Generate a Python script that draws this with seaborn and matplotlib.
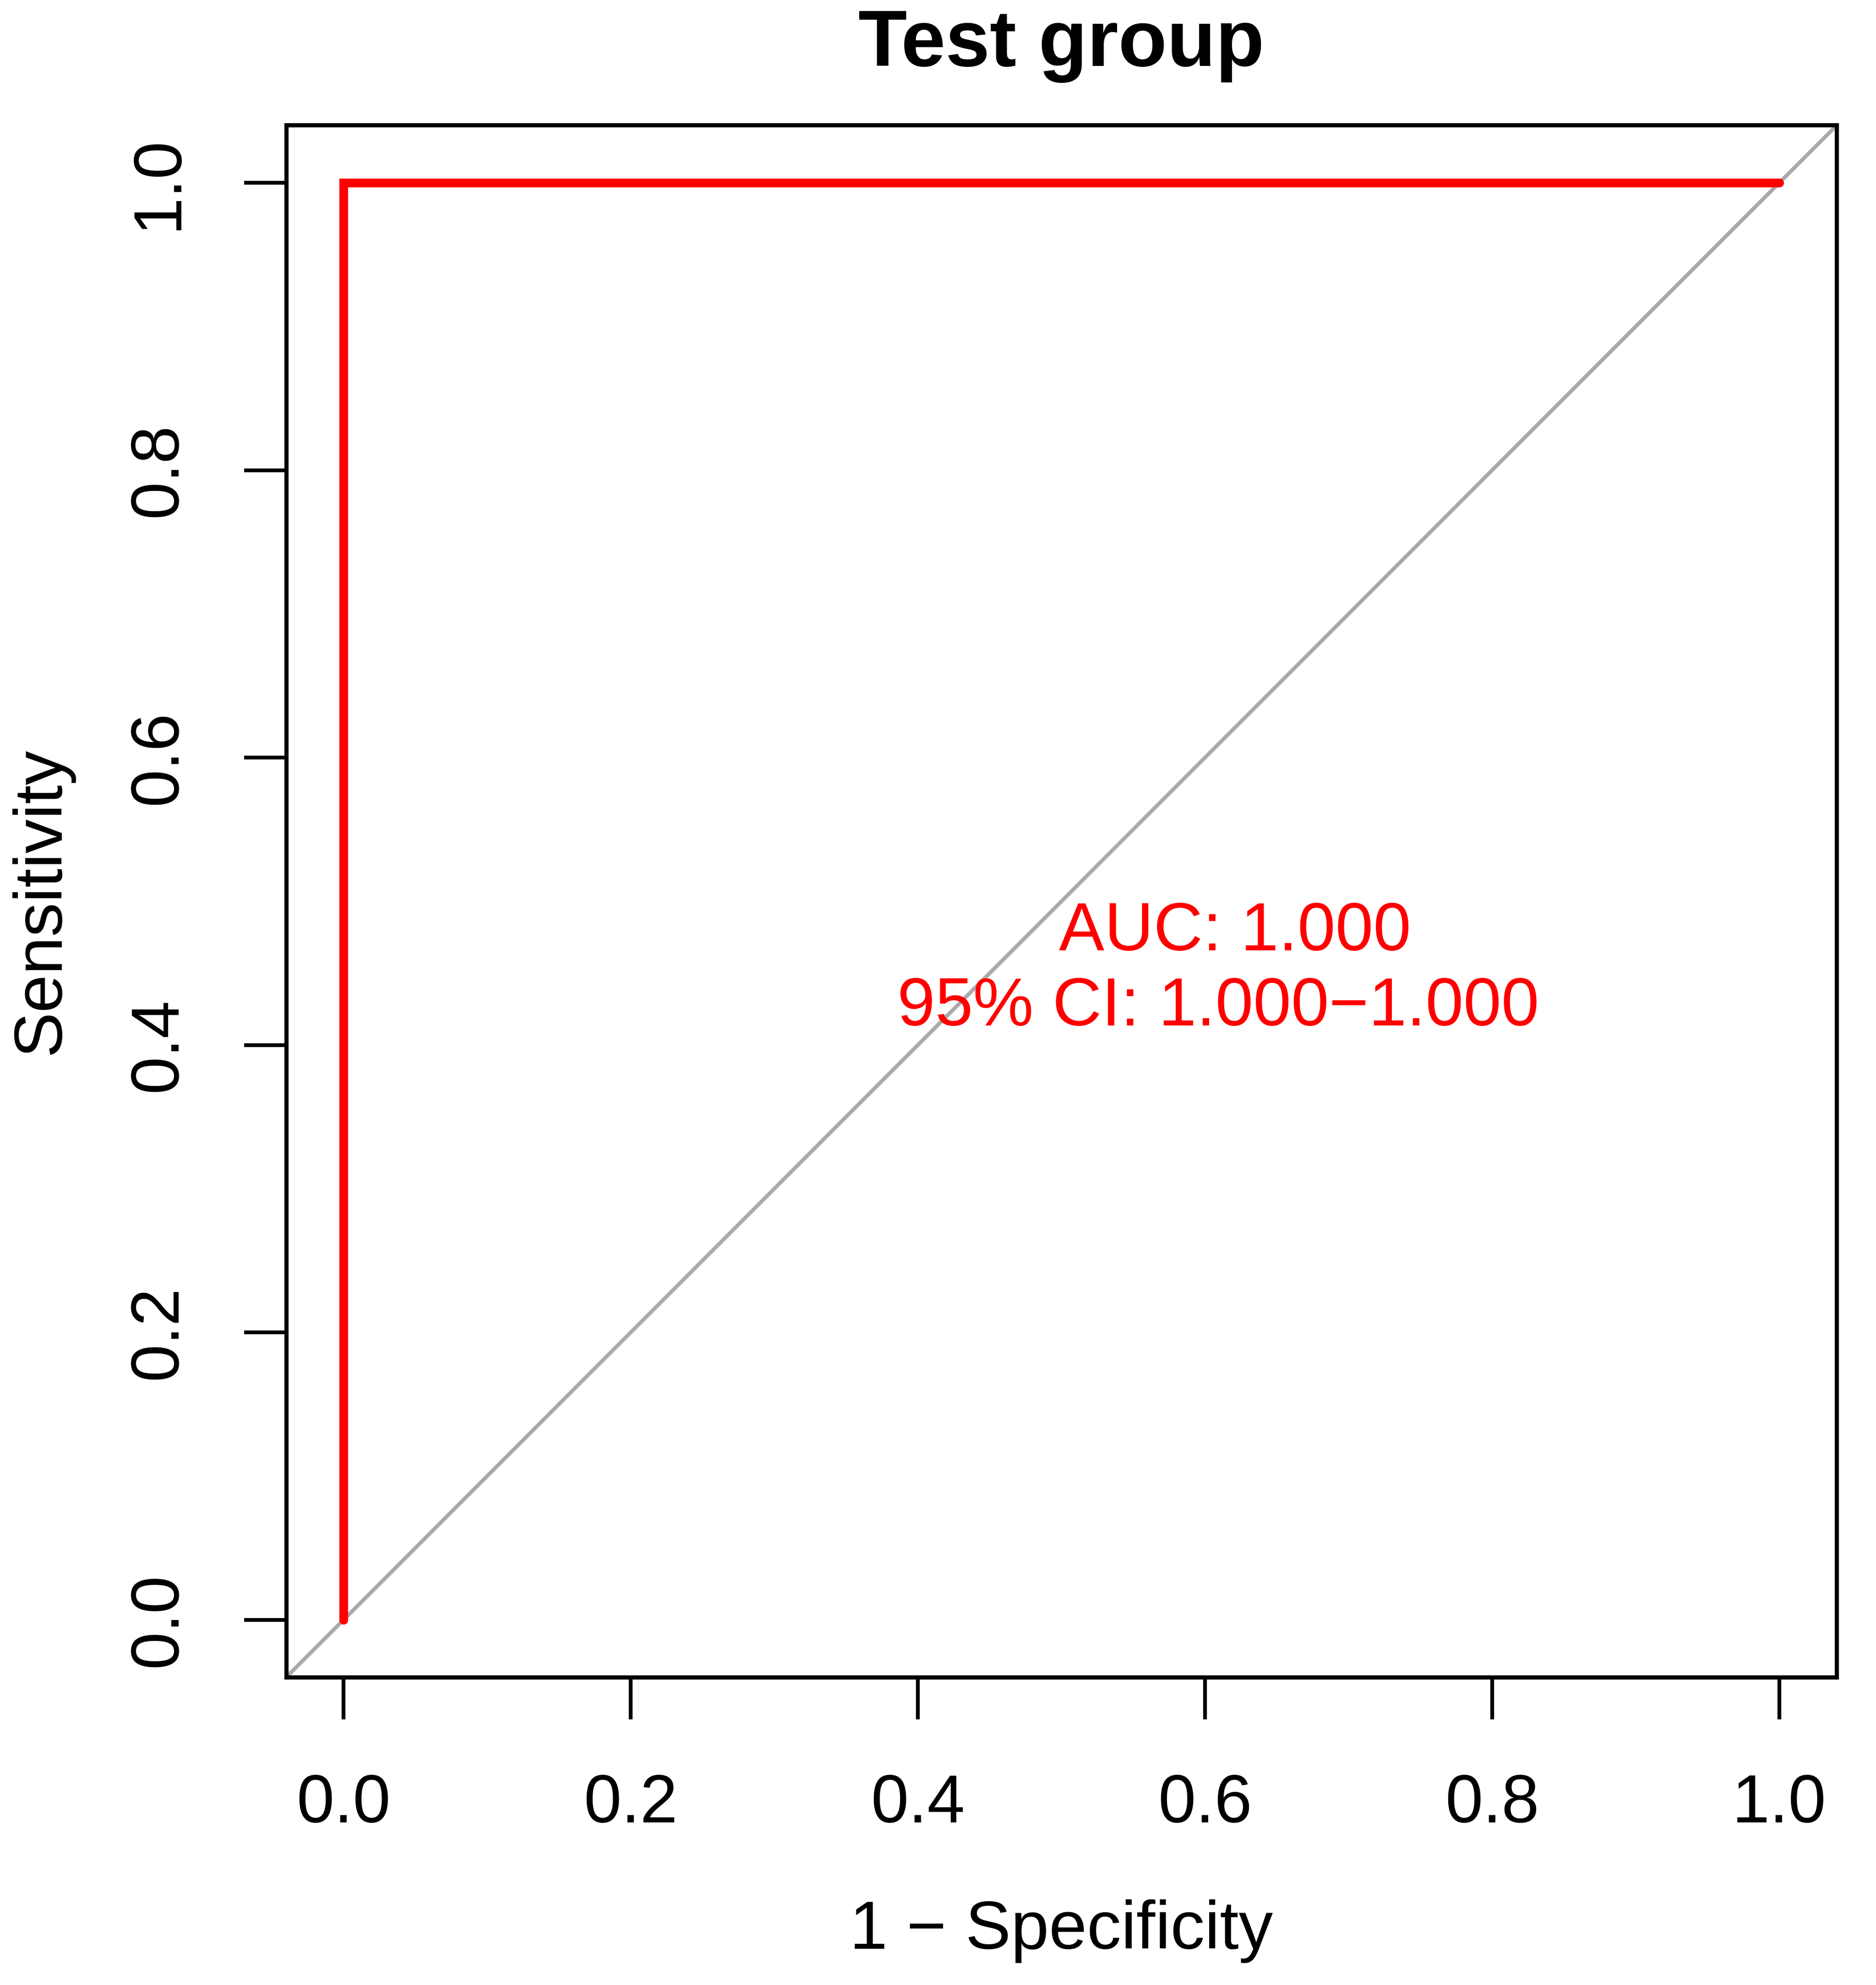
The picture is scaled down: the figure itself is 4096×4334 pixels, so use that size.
import numpy as np
import pandas as pd
import seaborn as sns
import matplotlib.pyplot as plt

# ROC curve points (1 - specificity, sensitivity)
fpr = [0.0, 0.0, 1.0]
tpr = [0.0, 1.0, 1.0]
auc_text = "AUC: 1.000"
ci_text = "95% CI: 1.000\u22121.000"
ticks = [0.0, 0.2, 0.4, 0.6, 0.8, 1.0]
tick_labels = ["0.0", "0.2", "0.4", "0.6", "0.8", "1.0"]

roc = pd.DataFrame({"fpr": fpr, "tpr": tpr})

sns.set_style("ticks")
plt.rcParams['font.family'] = ['Liberation Sans', 'DejaVu Sans']
plt.rcParams['text.color'] = 'black'
plt.rcParams['axes.labelcolor'] = 'black'

fig = plt.figure(figsize=(4096 / 300, 4334 / 300), dpi=300)
ax = fig.add_axes([0.1525, 0.155, 0.8266, 0.7819])

# chance diagonal
ax.axline((0, 0), slope=1, color="#AAAAAA", lw=2.0, zorder=1)

sns.lineplot(data=roc, x="fpr", y="tpr", sort=False, estimator=None,
             color="#FF0000", lw=4.6, ax=ax, zorder=3,
             solid_capstyle="round", solid_joinstyle="miter")

ax.text(0.621, 0.478, auc_text, color="#FF0000", fontsize=35.7,
        ha="center", va="center")
ax.text(0.609, 0.426, ci_text, color="#FF0000", fontsize=35.7,
        ha="center", va="center")

ax.set_xlim(-0.04, 1.04)
ax.set_ylim(-0.04, 1.04)
ax.set_xticks(ticks)
ax.set_xticklabels(tick_labels)
ax.set_yticks(ticks)
ax.set_yticklabels(tick_labels, rotation=90, va="center")

for s in ax.spines.values():
    s.set_visible(True)
    s.set_linewidth(2.2)
    s.set_color("black")

ax.tick_params(axis="both", direction="out", length=22, width=2.0,
               labelsize=35.5, colors="black", pad=28)

ax.set_xlabel("1 \u2212 Specificity", fontsize=35.8, labelpad=33)
ax.set_ylabel("Sensitivity", fontsize=35.8, labelpad=28)
ax.set_title("Test group", fontsize=41.8, fontweight="bold", pad=31)

fig.savefig("out.png", dpi=300, facecolor="white")
